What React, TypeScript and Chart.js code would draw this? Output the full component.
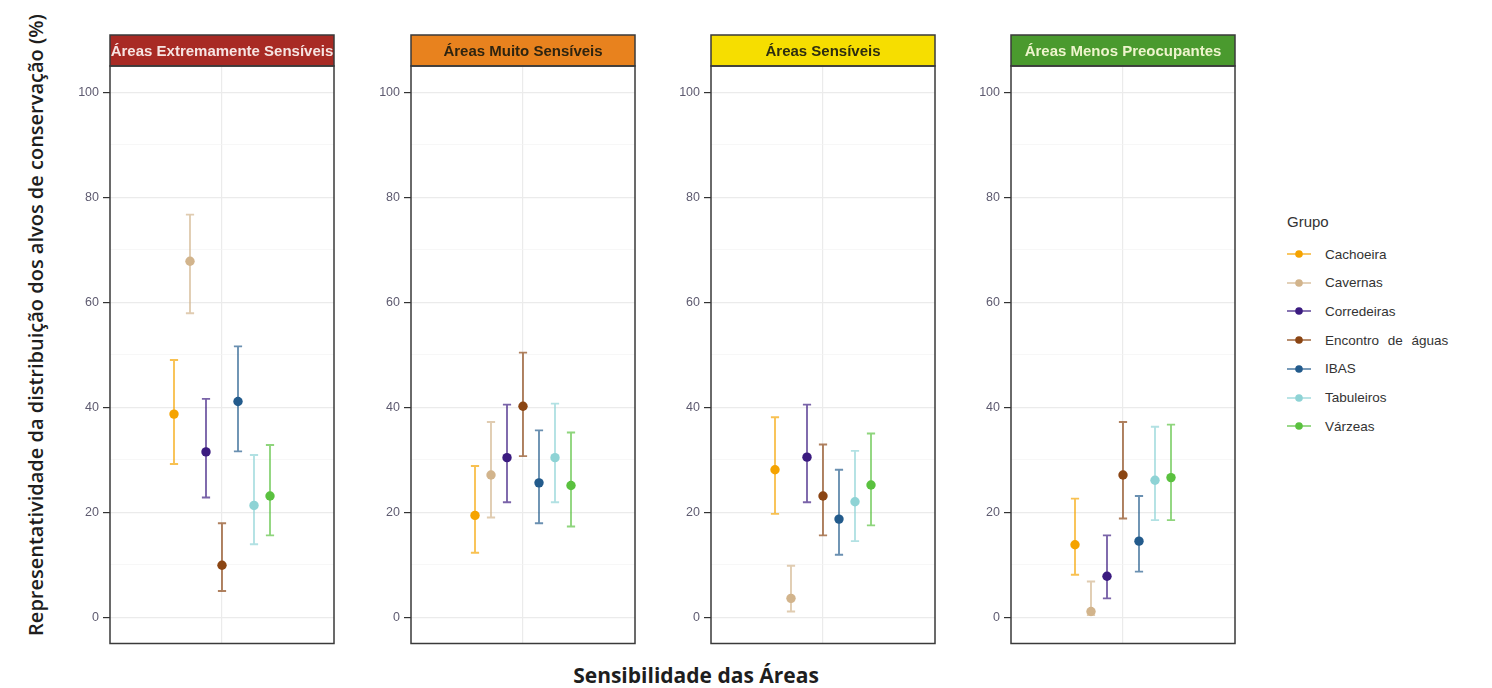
import React, { useEffect, useRef } from 'react';
import { Chart, registerables } from 'chart.js';

Chart.register(...registerables);

const GROUPS = ['Cachoeira', 'Cavernas', 'Corredeiras', 'Encontro de águas', 'IBAS', 'Tabuleiros', 'Várzeas'];
const COLORS = ['#F5A300', '#D2B48C', '#3B1B80', '#8B4513', '#235B8C', '#8ED3D5', '#5AC13F'];

const PANELS = ['Áreas Extremamente Sensíveis', 'Áreas Muito Sensíveis', 'Áreas Sensíveis', 'Áreas Menos Preocupantes'];
const STRIP_FILL = ['#A82A24', '#E8821E', '#F6DE00', '#4A9A2E'];
const STRIP_TEXT = ['#F6E4E2', '#2E2410', '#2E2E10', '#EEF4CC'];

// Mean, lower and upper bound per panel (order = GROUPS)
const MEAN_EXTREMA = [38.7, 67.8, 31.5, 9.9, 41.1, 21.3, 23.1];
const LOW_EXTREMA = [29.2, 57.9, 22.8, 5.0, 31.6, 13.9, 15.6];
const HIGH_EXTREMA = [49.0, 76.7, 41.6, 17.9, 51.6, 30.9, 32.8];

const MEAN_MUITO = [19.4, 27.1, 30.4, 40.2, 25.6, 30.4, 25.1];
const LOW_MUITO = [12.3, 19.0, 21.9, 30.7, 17.9, 21.9, 17.3];
const HIGH_MUITO = [28.8, 37.2, 40.5, 50.4, 35.6, 40.7, 35.2];

const MEAN_SENS = [28.1, 3.6, 30.5, 23.1, 18.7, 22.0, 25.2];
const LOW_SENS = [19.7, 1.1, 21.9, 15.6, 11.9, 14.5, 17.5];
const HIGH_SENS = [38.1, 9.8, 40.5, 32.9, 28.1, 31.7, 35.0];

const MEAN_MENOS = [13.8, 1.1, 7.8, 27.1, 14.5, 26.1, 26.6];
const LOW_MENOS = [8.1, 0.4, 3.6, 18.8, 8.7, 18.5, 18.5];
const HIGH_MENOS = [22.6, 6.8, 15.6, 37.2, 23.1, 36.3, 36.7];

const MEANS = [MEAN_EXTREMA, MEAN_MUITO, MEAN_SENS, MEAN_MENOS];
const LOWS = [LOW_EXTREMA, LOW_MUITO, LOW_SENS, LOW_MENOS];
const HIGHS = [HIGH_EXTREMA, HIGH_MUITO, HIGH_SENS, HIGH_MENOS];

const Y_TICKS = [0, 10, 20, 30, 40, 50, 60, 70, 80, 90, 100];
const Y_LABELED = [0, 20, 40, 60, 80, 100];

const DODGE = 0.6;
const CAP = 0.022;
const PANEL_LEFT = [110, 411, 711, 1011];
const PANEL_W = 224;
const AXIS_W = 60;

function hexA(hex: string, a: number) {
  const n = parseInt(hex.slice(1), 16);
  return `rgba(${(n >> 16) & 255},${(n >> 8) & 255},${n & 255},${a})`;
}

const errorBarPlugin = {
  id: 'errorBars',
  beforeDatasetsDraw(chart: any) {
    const { ctx } = chart;
    const xs = chart.scales.x;
    const ys = chart.scales.y;
    chart.data.datasets.forEach((ds: any) => {
      const p = ds.data[0];
      const x = xs.getPixelForValue(p.x);
      const xa = xs.getPixelForValue(p.x - CAP);
      const xb = xs.getPixelForValue(p.x + CAP);
      const yl = ys.getPixelForValue(p.low);
      const yh = ys.getPixelForValue(p.high);
      ctx.save();
      ctx.strokeStyle = ds.errorColor;
      ctx.lineWidth = 1.9;
      ctx.beginPath();
      ctx.moveTo(x, yl);
      ctx.lineTo(x, yh);
      ctx.moveTo(xa, yl);
      ctx.lineTo(xb, yl);
      ctx.moveTo(xa, yh);
      ctx.lineTo(xb, yh);
      ctx.stroke();
      ctx.restore();
    });
  },
};

const framePlugin = {
  id: 'frame',
  afterDraw(chart: any) {
    const { ctx, chartArea } = chart;
    const o = chart.options.plugins.frame;
    const { left, top, right, bottom } = chartArea;
    ctx.save();
    const sh = 31;
    ctx.fillStyle = o.fill;
    ctx.fillRect(left, top - sh, right - left, sh);
    ctx.strokeStyle = '#3A3A3A';
    ctx.lineWidth = 1.5;
    ctx.strokeRect(left, top - sh, right - left, sh);
    ctx.fillStyle = o.textColor;
    ctx.font = 'bold 15px "Liberation Sans", Arial, sans-serif';
    ctx.textAlign = 'center';
    ctx.textBaseline = 'middle';
    ctx.fillText(o.title, (left + right) / 2, top - sh / 2 + 1);
    ctx.strokeStyle = '#3A3A3A';
    ctx.lineWidth = 1.5;
    ctx.strokeRect(left, top, right - left, bottom - top);
    ctx.restore();
  },
};

function Panel({ idx }: { idx: number }) {
  const ref = useRef<HTMLCanvasElement | null>(null);
  useEffect(() => {
    if (!ref.current) return;
    const datasets = GROUPS.map((g, i) => ({
      label: g,
      data: [{ x: 1 + (i - 3) * (DODGE / GROUPS.length), y: MEANS[idx][i], low: LOWS[idx][i], high: HIGHS[idx][i] }],
      backgroundColor: COLORS[i],
      borderColor: COLORS[i],
      pointRadius: 4.7,
      pointBorderWidth: 0,
      errorColor: hexA(COLORS[i], 0.68),
    }));
    const chart = new Chart(ref.current, {
      type: 'scatter',
      data: { datasets } as any,
      plugins: [errorBarPlugin, framePlugin],
      options: {
        animation: false,
        responsive: false,
        layout: { padding: { left: 0, right: 6, top: 36, bottom: 2 } },
        plugins: {
          legend: { display: false },
          tooltip: { enabled: false },
          frame: { fill: STRIP_FILL[idx], textColor: STRIP_TEXT[idx], title: PANELS[idx] },
        } as any,
        scales: {
          x: {
            type: 'linear',
            min: 0.4,
            max: 1.6,
            afterBuildTicks: (s: any) => { s.ticks = [{ value: 1 }]; },
            afterFit: (s: any) => { s.height = 0; },
            ticks: { display: false },
            grid: { color: '#EBEBEB', lineWidth: 1.2, drawTicks: false },
            border: { display: false },
          },
          y: {
            type: 'linear',
            min: -5,
            max: 105,
            afterBuildTicks: (s: any) => { s.ticks = Y_TICKS.map((v) => ({ value: v })); },
            afterFit: (s: any) => { s.width = AXIS_W; },
            ticks: {
              padding: 4,
              color: '#5E5B70',
              font: { family: '"Liberation Sans", Arial, sans-serif', size: 12.5 },
              callback: (v: any) => (Y_LABELED.includes(Number(v)) ? String(v) : ''),
            },
            grid: {
              color: (c: any) => (c.tick && Y_LABELED.includes(c.tick.value) ? '#EBEBEB' : '#F4F4F4'),
              lineWidth: (c: any) => (c.tick && Y_LABELED.includes(c.tick.value) ? 1.2 : 0.7),
              tickColor: (c: any) => (c.tick && Y_LABELED.includes(c.tick.value) ? '#333333' : 'rgba(0,0,0,0)'),
              tickLength: 7,
              tickWidth: 1.2,
            } as any,
            border: { display: false },
          },
        },
      } as any,
    });
    return () => chart.destroy();
  }, [idx]);
  return (
    <canvas
      ref={ref}
      width={AXIS_W + PANEL_W + 6}
      height={625}
      style={{ position: 'absolute', left: PANEL_LEFT[idx] - AXIS_W, top: 30 }}
    />
  );
}

export default function App() {
  useEffect(() => {
    document.body.style.margin = '0';
  }, []);
  return (
    <div style={{ position: 'relative', width: 1492, height: 688, overflow: 'hidden', background: '#ffffff', fontFamily: '"Liberation Sans", Arial, sans-serif' }}>
      {PANELS.map((_, i) => (
        <Panel key={i} idx={i} />
      ))}
      <div
        style={{
          position: 'absolute',
          left: 35,
          top: 325,
          transform: 'translate(-50%, -50%) rotate(-90deg)',
          whiteSpace: 'nowrap',
          fontFamily: '"Open Sans", sans-serif',
          fontWeight: 600,
          fontSize: 20,
          color: '#1E1E1E',
        }}
      >
        Representatividade da distribuição dos alvos de conservação (%)
      </div>
      <div
        style={{
          position: 'absolute',
          left: 696,
          top: 675,
          transform: 'translate(-50%, -50%)',
          whiteSpace: 'nowrap',
          fontFamily: '"Open Sans", sans-serif',
          fontWeight: 700,
          fontSize: 21,
          color: '#1E1E1E',
        }}
      >
        Sensibilidade das Áreas
      </div>
      <div style={{ position: 'absolute', left: 1287, top: 213, fontSize: 15, color: '#333' }}>Grupo</div>
      {GROUPS.map((g, i) => (
        <div key={g} style={{ position: 'absolute', left: 1287, top: 254 + i * 28.7 - 10, height: 20, display: 'flex', alignItems: 'center' }}>
          <svg width={24} height={20} style={{ display: 'block' }}>
            <line x1={0} y1={10} x2={24} y2={10} stroke={hexA(COLORS[i], 0.68)} strokeWidth={1.8} />
            <circle cx={12} cy={10} r={3.8} fill={COLORS[i]} />
          </svg>
          <span style={{ marginLeft: 14, fontSize: 13.5, color: '#333', wordSpacing: g === 'Encontro de águas' ? 5 : 0 }}>{g}</span>
        </div>
      ))}
    </div>
  );
}
